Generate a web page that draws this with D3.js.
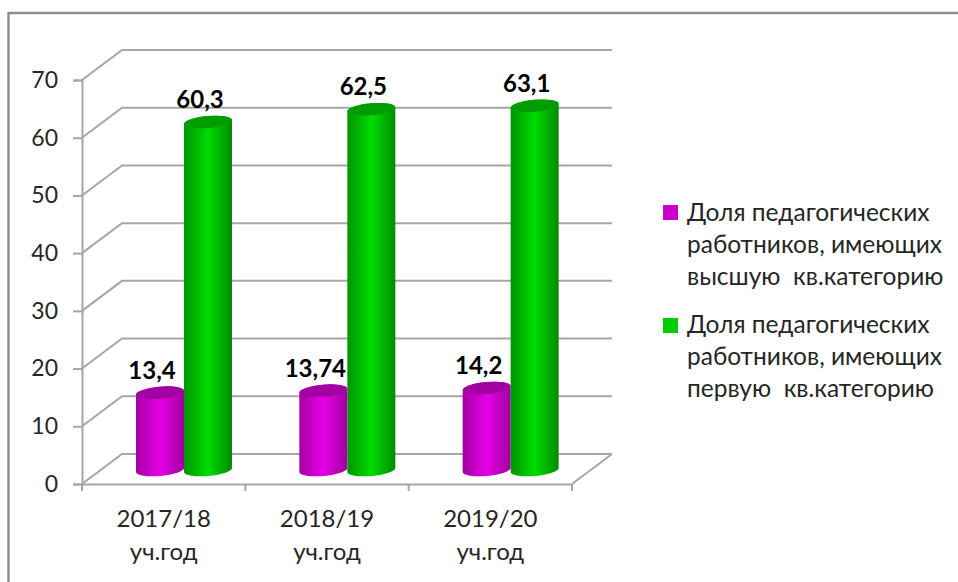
<!DOCTYPE html>
<html>
<head>
<meta charset="utf-8">
<script src="https://cdn.jsdelivr.net/npm/d3@7"></script>
<style>
html, body { margin: 0; padding: 0; background: #fff; }
svg { display: block; }
text { font-family: Lato, sans-serif; white-space: pre; }
</style>
</head>
<body>
<div class="chart"></div>
<script>
// Données
const categories = ['2017/18', '2018/19', '2019/20'];
const categorySuffix = 'уч.год';
const highestCategory = [13.4, 13.74, 14.2];
const firstCategory = [60.3, 62.5, 63.1];
const valueTicks = [0, 10, 20, 30, 40, 50, 60, 70];
const legendHighest = ['Доля педагогических', 'работников, имеющих', 'высшую  кв.категорию'];
const legendFirst = ['Доля педагогических', 'работников, имеющих', 'первую  кв.категорию'];

// Paramètres
const width = 958;
const height = 582;
const depth = { x: 40, y: -30 };
const gridColor = '#a6a6a6';
const textColor = '#262626';

const svg = d3.select('.chart')
	.append('svg')
	.attr('width', width)
	.attr('height', height);

// Dégradés des cylindres
const defs = svg.append('defs');
function addGradient(id, edgeLeft, center, edgeRight) {
	const g = defs.append('linearGradient').attr('id', id);
	g.append('stop').attr('offset', '0%').attr('stop-color', edgeLeft);
	g.append('stop').attr('offset', '50%').attr('stop-color', center);
	g.append('stop').attr('offset', '100%').attr('stop-color', edgeRight);
}
addGradient('pinkBody', '#a300a3', '#e600e6', '#a000a0');
addGradient('greenBody', '#009400', '#00dc00', '#008c00');

// Cadre
svg.append('rect')
	.attr('x', 8.5)
	.attr('y', 13)
	.attr('width', width)
	.attr('height', height)
	.attr('fill', 'none')
	.attr('stroke', '#8c8c8c')
	.attr('stroke-width', 2.4);

// Echelles
const scaleY = d3.scaleLinear().domain([0, 70]).range([484, 80]);
const scaleX = d3.scaleBand().domain(categories).range([82, 572]);
const scaleSeries = d3.scaleBand()
	.domain(['high', 'first'])
	.range([54, 150]);

// Grille (parois du fond et sol)
const grid = svg.append('g')
	.attr('fill', 'none')
	.attr('stroke', gridColor)
	.attr('stroke-width', 2);

grid.selectAll('.wall')
	.data(valueTicks)
	.join('polyline')
		.attr('points', d => {
			const y = scaleY(d);
			return [[82, y], [82 + depth.x, y + depth.y], [572 + depth.x, y + depth.y]].join(' ');
		});

grid.append('polyline')
	.attr('points', [
		[572, scaleY(0)],
		[572 + depth.x, scaleY(0) + depth.y]
	].join(' '));

// Axes
svg.append('g')
	.attr('transform', 'translate(82, 0)')
	.call(d3.axisLeft(scaleY).tickValues(valueTicks).tickSize(9).tickPadding(15))
	.call(g => {
		g.select('.domain').attr('stroke', gridColor).attr('stroke-width', 2);
		g.selectAll('line').attr('stroke', gridColor).attr('stroke-width', 2);
		g.selectAll('text')
			.attr('fill', textColor)
			.style('font-size', '23px');
	});

const xAxis = svg.append('g')
	.attr('transform', `translate(0, ${scaleY(0)})`)
	.call(d3.axisBottom(scaleX).tickSize(0).tickFormat(''))
	.call(g => g.select('.domain').attr('stroke', gridColor).attr('stroke-width', 2));

xAxis.selectAll('.boundary')
	.data(d3.range(categories.length + 1))
	.join('line')
		.attr('x1', i => 82 + i * scaleX.step())
		.attr('x2', i => 82 + i * scaleX.step())
		.attr('y1', 0)
		.attr('y2', 7)
		.attr('stroke', gridColor)
		.attr('stroke-width', 2);

const xLabels = svg.append('g')
	.attr('text-anchor', 'middle')
	.attr('fill', textColor)
	.style('font-size', '24px');

xLabels.selectAll('.year')
	.data(categories)
	.join('text')
		.attr('x', d => scaleX(d) + scaleX.bandwidth() / 2)
		.attr('y', 527)
		.text(d => d);

xLabels.selectAll('.suffix')
	.data(categories)
	.join('text')
		.attr('class', 'suffix')
		.attr('x', d => scaleX(d) + scaleX.bandwidth() / 2)
		.attr('y', 560)
		.text(categorySuffix);

// Cylindres
const tilt = -5;
const ry = 6;
const baseOffset = 14;

function drawSeries(key, values, bodyFill, topFill) {
	const r = scaleSeries.bandwidth() / 2;
	const rise = r * Math.sin(-tilt * Math.PI / 180);
	const group = svg.append('g');
	const cx = (d, i) => scaleX(categories[i]) + scaleSeries(key) + r;
	const top = d => scaleY(d) - baseOffset;
	const bottom = scaleY(0) - baseOffset;

	group.selectAll('path')
		.data(values)
		.join('path')
			.attr('fill', bodyFill)
			.attr('d', (d, i) => {
				const c = cx(d, i);
				return `M${c - r},${top(d) + rise}`
					+ `L${c - r},${bottom + rise}`
					+ `A${r},${ry} ${tilt} 0 0 ${c + r},${bottom - rise}`
					+ `L${c + r},${top(d) - rise}`
					+ `A${r},${ry} ${tilt} 0 0 ${c - r},${top(d) + rise}Z`;
			});

	group.selectAll('ellipse')
		.data(values)
		.join('ellipse')
			.attr('rx', r)
			.attr('ry', ry)
			.attr('fill', topFill)
			.attr('transform', (d, i) => `translate(${cx(d, i)},${top(d)}) rotate(${tilt})`);

	group.selectAll('text')
		.data(values)
		.join('text')
			.attr('x', (d, i) => cx(d, i) - 8)
			.attr('y', d => top(d) - 14)
			.attr('text-anchor', 'middle')
			.attr('fill', '#000')
			.style('font-size', '24px')
			.style('font-weight', 'bold')
			.text(d => String(d).replace('.', ','));
}

drawSeries('high', highestCategory, 'url(#pinkBody)', '#a300a3');
drawSeries('first', firstCategory, 'url(#greenBody)', '#009c00');

// Légende
function drawLegend(lines, color, squareY, baselines) {
	const g = svg.append('g');
	g.append('rect')
		.attr('x', 663)
		.attr('y', squareY)
		.attr('width', 15)
		.attr('height', 15)
		.attr('fill', color);
	g.selectAll('text')
		.data(lines)
		.join('text')
			.attr('x', 687)
			.attr('y', (d, i) => baselines[i])
			.attr('fill', textColor)
			.style('font-size', '24.5px')
			.text(d => d);
}

drawLegend(legendHighest, '#cc00cc', 205, [221, 253, 285]);
drawLegend(legendFirst, '#00cc00', 318, [333, 365, 397]);
</script>
</body>
</html>
